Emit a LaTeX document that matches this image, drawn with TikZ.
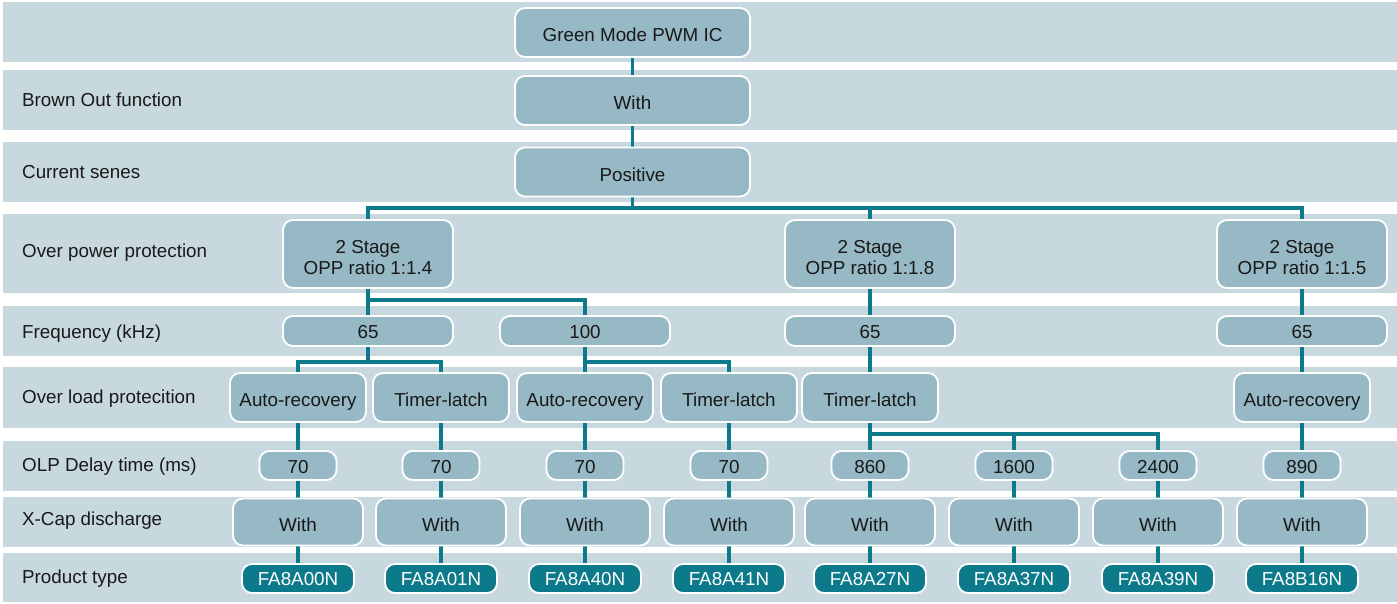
\documentclass[tikz,border=0pt]{standalone}
\usepackage{fontspec}
\setmainfont{Liberation Sans}
\definecolor{bandc}{RGB}{200,216,223}
\definecolor{nodefill}{RGB}{150,185,197}
\definecolor{myteal}{RGB}{12,122,138}
\definecolor{txt}{RGB}{25,25,25}
\pgfdeclarelayer{bg}
\pgfsetlayers{bg,main}
\newcommand{\lowstrut}{\rule{0pt}{19.8pt}}
\begin{document}
\begin{tikzpicture}[x=1pt,y=-1pt,
  band/.style={fill=bandc, draw=none},
  box/.style={draw=white, line width=1.8pt, fill=nodefill, rounded corners=10pt,
    inner sep=0pt, text height=18.4pt, text depth=0pt,
    font=\fontsize{18.8}{20.5}\selectfont, text=txt},
  smallbox/.style={box, text height=15.6pt},
  twoline/.style={draw=white, line width=1.8pt, fill=nodefill, rounded corners=10pt,
    inner sep=0pt, align=center, font=\fontsize{18.8}{20.5}\selectfont, text=txt,
    minimum width=170pt, minimum height=68pt},
  topbox/.style={box, minimum width=235pt, minimum height=49pt},
  freqbox/.style={smallbox, minimum width=170pt, minimum height=30pt},
  olbox/.style={box, minimum width=136pt, minimum height=49pt},
  delaybox/.style={smallbox, minimum width=77pt, minimum height=29pt},
  xbox/.style={box, minimum width=130pt, minimum height=47pt},
  prodbox/.style={smallbox, fill=myteal, text=white, text height=14.4pt, minimum width=112pt, minimum height=29pt},
  lbl/.style={anchor=west, inner sep=0pt, text height=13.4pt, text depth=0pt,
    font=\fontsize{18.8}{20.5}\selectfont, text=txt},
  conn/.style={draw=myteal, line width=3.5pt}
]
\useasboundingbox (0,0) rectangle (1397,603);
% bands
\begin{pgfonlayer}{bg}
\fill[band] (3,2) rectangle (1397,62);
\fill[band] (3,70) rectangle (1397,130);
\fill[band] (3,142) rectangle (1397,202);
\fill[band] (3,214) rectangle (1397,293);
\fill[band] (3,306) rectangle (1397,356);
\fill[band] (3,367) rectangle (1397,428);
\fill[band] (3,441) rectangle (1397,491);
\fill[band] (3,497) rectangle (1397,547);
\fill[band] (3,553) rectangle (1397,602);
\end{pgfonlayer}
% labels
\node[lbl] (l2) at (22,100) {Brown Out function};
\node[lbl] (l3) at (22,172) {Current senes};
\node[lbl] (l4) at (22,251) {Over power protection};
\node[lbl] (l5) at (22,332) {Frequency (kHz)};
\node[lbl] (l6) at (22,397) {Over load protecition};
\node[lbl] (l7) at (22,465) {OLP Delay time (ms)};
\node[lbl] (l8) at (22,519) {X-Cap discharge};
\node[lbl] (l9) at (22,577) {Product type};
% top chain
\node[topbox] (top) at (632.5,32.5) {Green Mode PWM IC};
\node[topbox] (bo) at (632.5,100.5) {With};
\node[topbox] (cs) at (632.5,172) {Positive};
% OPP
\node[twoline] (opp1) at (368,254) {\lowstrut 2 Stage\\OPP ratio 1:1.4};
\node[twoline] (opp2) at (870,254) {\lowstrut 2 Stage\\OPP ratio 1:1.8};
\node[twoline] (opp3) at (1302,254) {\lowstrut 2 Stage\\OPP ratio 1:1.5};
% frequency
\node[freqbox] (f1) at (368,331) {65};
\node[freqbox] (f2) at (585,331) {100};
\node[freqbox] (f3) at (870,331) {65};
\node[freqbox] (f4) at (1302,331) {65};
% over load
\node[olbox] (o1) at (298,397.5) {Auto-recovery};
\node[olbox] (o2) at (441,397.5) {Timer-latch};
\node[olbox] (o3) at (585,397.5) {Auto-recovery};
\node[olbox] (o4) at (729,397.5) {Timer-latch};
\node[olbox] (o5) at (870,397.5) {Timer-latch};
\node[olbox] (o6) at (1302,397.5) {Auto-recovery};
% delay
\node[delaybox] (d1) at (298,465.5) {70};
\node[delaybox] (d2) at (441,465.5) {70};
\node[delaybox] (d3) at (585,465.5) {70};
\node[delaybox] (d4) at (729,465.5) {70};
\node[delaybox] (d5) at (870,465.5) {860};
\node[delaybox] (d6) at (1014,465.5) {1600};
\node[delaybox] (d7) at (1158,465.5) {2400};
\node[delaybox] (d8) at (1302,465.5) {890};
% x-cap
\foreach \i/\x in {1/298,2/441,3/585,4/729,5/870,6/1014,7/1158,8/1302}
  \node[xbox] (x\i) at (\x,522) {With};
% product
\node[prodbox] (p1) at (298,578.5) {FA8A00N};
\node[prodbox] (p2) at (441,578.5) {FA8A01N};
\node[prodbox] (p3) at (585,578.5) {FA8A40N};
\node[prodbox] (p4) at (729,578.5) {FA8A41N};
\node[prodbox] (p5) at (870,578.5) {FA8A27N};
\node[prodbox] (p6) at (1014,578.5) {FA8A37N};
\node[prodbox] (p7) at (1158,578.5) {FA8A39N};
\node[prodbox] (p8) at (1302,578.5) {FA8B16N};
% branch points
\coordinate (h1) at (632.5,208);
\coordinate (h2) at (368,300);
\coordinate (h3) at (368,362);
\coordinate (h4) at (585,362);
\coordinate (h5) at (870,434);
% connectors
\begin{pgfonlayer}{bg}
\draw[conn] (top) -- (bo);
\draw[conn] (bo) -- (cs);
\draw[conn] (cs.south) -- (h1);
\draw[conn] (opp1.north) |- (h1) -| (opp3.north);
\draw[conn] (h1) -| (opp2.north);
\draw[conn] (opp1.south) -- (f1.north);
\draw[conn] (h2) -| (f2.north);
\draw[conn] (opp2) -- (f3);
\draw[conn] (opp3) -- (f4);
\draw[conn] (f1.south) -- (h3);
\draw[conn] (o1.north) |- (h3) -| (o2.north);
\draw[conn] (f2) -- (o3);
\draw[conn] (h4) -| (o4.north);
\draw[conn] (f3) -- (o5);
\draw[conn] (f4) -- (o6);
\draw[conn] (o1) -- (d1);
\draw[conn] (o2) -- (d2);
\draw[conn] (o3) -- (d3);
\draw[conn] (o4) -- (d4);
\draw[conn] (o5) -- (d5);
\draw[conn] (h5) -| (d6.north);
\draw[conn] (h5) -| (d7.north);
\draw[conn] (o6) -- (d8);
\foreach \i in {1,...,8} {
  \draw[conn] (d\i) -- (x\i);
  \draw[conn] (x\i) -- (p\i);
}
\end{pgfonlayer}
\end{tikzpicture}
\end{document}
